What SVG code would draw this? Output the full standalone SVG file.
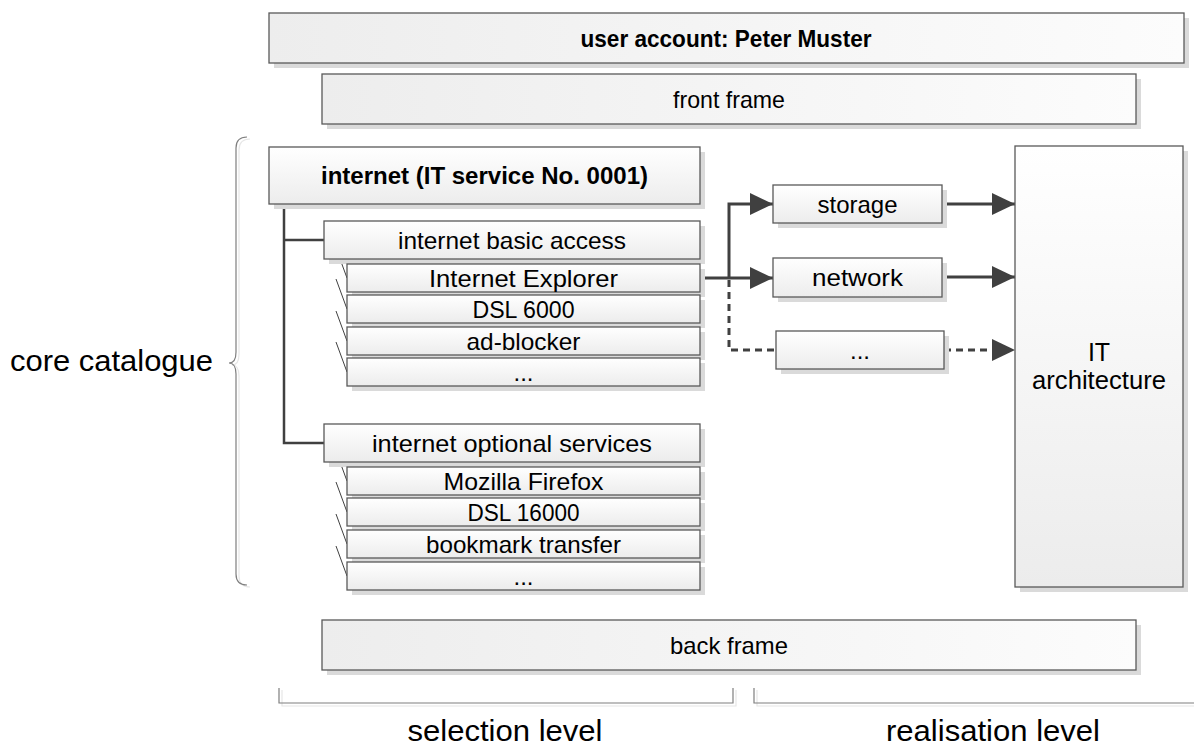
<svg xmlns="http://www.w3.org/2000/svg" width="1194" height="745" viewBox="0 0 1194 745">
  <defs>
    <linearGradient id="gFrame" x1="0" y1="0" x2="1" y2="0">
      <stop offset="0" stop-color="#ededed"/>
      <stop offset="1" stop-color="#fcfcfc"/>
    </linearGradient>
    <linearGradient id="gBox" x1="0" y1="0" x2="0" y2="1">
      <stop offset="0" stop-color="#ffffff"/>
      <stop offset="1" stop-color="#ececec"/>
    </linearGradient>
    <marker id="arrow" markerUnits="userSpaceOnUse" markerWidth="24" markerHeight="22" refX="23" refY="11" orient="auto">
      <path d="M0,0 L23,11 L0,22 z" fill="#404040"/>
    </marker>
    <style>
      .shadow { fill: #dadada; }
      .frame { fill: url(#gFrame); stroke: #595959; stroke-width: 1.3; }
      .box { fill: url(#gBox); stroke: #595959; stroke-width: 1.3; }
      text { font-family: "Liberation Sans", Arial, sans-serif; fill: #000; text-anchor: middle; }
      .lbl { font-size: 24px; dominant-baseline: central; }
      .bold { font-weight: bold; }
      .big { font-size: 30px; }
      .tree { fill: none; stroke: #404040; stroke-width: 2.5; }
      .slash { fill: none; stroke: #404040; stroke-width: 1; }
      .flow { fill: none; stroke: #404040; stroke-width: 3; }
      .dash { stroke-dasharray: 7 5; }
      .bracket { fill: none; stroke: #7f7f7f; stroke-width: 1.2; }
      .bracket-sh { fill: none; stroke: #e6e6e6; stroke-width: 1.2; }
    </style>
  </defs>

  <rect width="1194" height="745" fill="#ffffff"/>

  <!-- side and bottom brackets -->
  <g id="brackets">
    <path class="bracket-sh" d="M250,139 Q239,139 239,150 L239,354 Q239,365 232,365 Q239,365 239,376 L239,576 Q239,587 250,587"/>
    <path class="bracket" d="M247,137 Q236,137 236,148 L236,352 Q236,363 229,363 Q236,363 236,374 L236,574 Q236,585 247,585"/>
    <path class="bracket-sh" d="M282,690 L282,706 L736,706 L736,690"/>
    <path class="bracket" d="M279,688 L279,703 L733,703 L733,688"/>
    <path class="bracket-sh" d="M757,690 L757,706 L1194,706"/>
    <path class="bracket" d="M754,688 L754,703 L1194,703"/>
  </g>

  <!-- connectors -->
  <g id="connectors">
    <path class="tree" d="M284,204 L284,443 L324,443"/>
    <path class="tree" d="M284,240 L324,240"/>
    <path class="slash" d="M336,248 L347,278"/>
    <path class="slash" d="M336,279 L347,309"/>
    <path class="slash" d="M336,311 L347,341"/>
    <path class="slash" d="M336,342 L347,372"/>
    <path class="slash" d="M336,451 L347,481"/>
    <path class="slash" d="M336,482 L347,512"/>
    <path class="slash" d="M336,514 L347,544"/>
    <path class="slash" d="M336,546 L347,576"/>
    <path class="flow" d="M700,278 L773,278" marker-end="url(#arrow)"/>
    <path class="flow" d="M729,278 L729,204 L773,204" marker-end="url(#arrow)"/>
    <path class="flow dash" d="M729,280 L729,350 L776,350"/>
    <path class="flow" d="M942,204 L1015,204" marker-end="url(#arrow)"/>
    <path class="flow" d="M942,277 L1015,277" marker-end="url(#arrow)"/>
    <path class="flow dash" d="M944,350 L1015,350" marker-end="url(#arrow)"/>
  </g>

  <g id="user-account">
    <rect class="shadow" x="274" y="18" width="915" height="50"/>
    <rect class="frame" x="269" y="13" width="915" height="50"/>
    <text class="lbl bold" x="726" y="38" font-size="23" textLength="291" lengthAdjust="spacingAndGlyphs">user account: Peter Muster</text>
  </g>

  <g id="front-frame">
    <rect class="shadow" x="327" y="79" width="814" height="50"/>
    <rect class="frame" x="322" y="74" width="814" height="50"/>
    <text class="lbl" x="729" y="99" textLength="112" lengthAdjust="spacingAndGlyphs">front frame</text>
  </g>

  <g id="internet">
    <rect class="shadow" x="274" y="152" width="431" height="57"/>
    <rect class="box" x="269" y="147" width="431" height="57"/>
    <text class="lbl bold" x="484.5" y="175.5" textLength="327" lengthAdjust="spacingAndGlyphs">internet (IT service No. 0001)</text>
  </g>

  <g id="basic-access">
    <rect class="shadow" x="329" y="226" width="376" height="38"/>
    <rect class="box" x="324" y="221" width="376" height="38"/>
    <text class="lbl" x="512" y="240" textLength="228" lengthAdjust="spacingAndGlyphs">internet basic access</text>
  </g>
  <g id="internet-explorer">
    <rect class="shadow" x="352" y="269" width="353" height="28"/>
    <rect class="box" x="347" y="264" width="353" height="28"/>
    <text class="lbl" x="523.5" y="278" textLength="189" lengthAdjust="spacingAndGlyphs">Internet Explorer</text>
  </g>
  <g id="dsl-6000">
    <rect class="shadow" x="352" y="300" width="353" height="28"/>
    <rect class="box" x="347" y="295" width="353" height="28"/>
    <text class="lbl" x="523.5" y="309" textLength="102" lengthAdjust="spacingAndGlyphs">DSL 6000</text>
  </g>
  <g id="ad-blocker">
    <rect class="shadow" x="352" y="332" width="353" height="28"/>
    <rect class="box" x="347" y="327" width="353" height="28"/>
    <text class="lbl" x="523.5" y="341" textLength="114" lengthAdjust="spacingAndGlyphs">ad-blocker</text>
  </g>
  <g id="basic-more">
    <rect class="shadow" x="352" y="363" width="353" height="28"/>
    <rect class="box" x="347" y="358" width="353" height="28"/>
    <text class="lbl" x="523.5" y="372">...</text>
  </g>

  <g id="optional-services">
    <rect class="shadow" x="329" y="429" width="376" height="38"/>
    <rect class="box" x="324" y="424" width="376" height="38"/>
    <text class="lbl" x="512" y="443" textLength="280" lengthAdjust="spacingAndGlyphs">internet optional services</text>
  </g>
  <g id="mozilla-firefox">
    <rect class="shadow" x="352" y="472" width="353" height="28"/>
    <rect class="box" x="347" y="467" width="353" height="28"/>
    <text class="lbl" x="523.5" y="481" textLength="160" lengthAdjust="spacingAndGlyphs">Mozilla Firefox</text>
  </g>
  <g id="dsl-16000">
    <rect class="shadow" x="352" y="503" width="353" height="28"/>
    <rect class="box" x="347" y="498" width="353" height="28"/>
    <text class="lbl" x="523.5" y="512" textLength="112" lengthAdjust="spacingAndGlyphs">DSL 16000</text>
  </g>
  <g id="bookmark-transfer">
    <rect class="shadow" x="352" y="535" width="353" height="28"/>
    <rect class="box" x="347" y="530" width="353" height="28"/>
    <text class="lbl" x="523.5" y="544" textLength="195" lengthAdjust="spacingAndGlyphs">bookmark transfer</text>
  </g>
  <g id="optional-more">
    <rect class="shadow" x="352" y="567" width="353" height="28"/>
    <rect class="box" x="347" y="562" width="353" height="28"/>
    <text class="lbl" x="523.5" y="576">...</text>
  </g>

  <g id="storage">
    <rect class="shadow" x="778" y="190" width="169" height="38"/>
    <rect class="box" x="773" y="185" width="169" height="38"/>
    <text class="lbl" x="857.5" y="204" textLength="80" lengthAdjust="spacingAndGlyphs">storage</text>
  </g>
  <g id="network">
    <rect class="shadow" x="778" y="263" width="169" height="39"/>
    <rect class="box" x="773" y="258" width="169" height="39"/>
    <text class="lbl" x="857.5" y="277.5" textLength="91" lengthAdjust="spacingAndGlyphs">network</text>
  </g>
  <g id="more-components">
    <rect class="shadow" x="781" y="336" width="168" height="38"/>
    <rect class="box" x="776" y="331" width="168" height="38"/>
    <text class="lbl" x="860" y="350">...</text>
  </g>

  <g id="it-architecture">
    <rect class="shadow" x="1020" y="151" width="168" height="441"/>
    <rect class="box" x="1015" y="146" width="168" height="441"/>
    <text x="1099" y="361" font-size="25">IT</text>
    <text x="1099" y="389" font-size="25" textLength="134" lengthAdjust="spacingAndGlyphs">architecture</text>
  </g>

  <g id="back-frame">
    <rect class="shadow" x="327" y="625" width="814" height="50"/>
    <rect class="frame" x="322" y="620" width="814" height="50"/>
    <text class="lbl" x="729" y="645" textLength="118" lengthAdjust="spacingAndGlyphs">back frame</text>
  </g>

  <g id="labels">
    <text class="big" x="111.5" y="371" textLength="203" lengthAdjust="spacingAndGlyphs">core catalogue</text>
    <text class="big" x="505" y="741" textLength="195" lengthAdjust="spacingAndGlyphs">selection level</text>
    <text class="big" x="993" y="741" textLength="214" lengthAdjust="spacingAndGlyphs">realisation level</text>
  </g>
</svg>
